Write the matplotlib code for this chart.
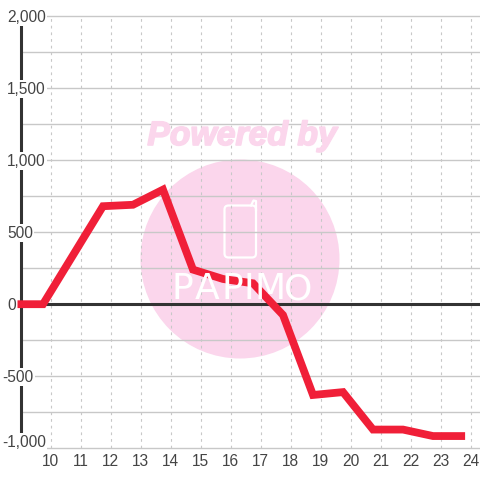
import matplotlib
matplotlib.use('Agg')
import matplotlib.pyplot as plt
import matplotlib.patheffects as pe
from matplotlib.patches import Circle, FancyBboxPatch
from matplotlib.lines import Line2D
from matplotlib.transforms import Affine2D

# Data
hours = [8.9, 9.75, 10.75, 11.75, 12.75, 13.75, 14.75, 15.75, 16.75, 17.75, 18.75, 19.75, 20.75, 21.75, 22.75, 23.82]
values = [0, 0, 340, 680, 690, 795, 240, 175, 145, -75, -630, -610, -870, -870, -915, -915]
x_ticks = [10, 11, 12, 13, 14, 15, 16, 17, 18, 19, 20, 21, 22, 23, 24]
y_ticks = [2000, 1500, 1000, 500, 0, -500, -1000]
y_minor = [1750, 1250, 750, 250, -250, -750]

W = 480
plt.rcParams['font.family'] = ['Liberation Sans', 'DejaVu Sans']
TXT = '#444444'
PINK = '#fbd6ec'
GRID = '#c8c8c8'
DARK = '#333333'
RED = '#f01f38'

fig = plt.figure(figsize=(4.8, 4.8), dpi=100, facecolor='white')
# axes spans px x 20.5..480, y 16..448 (from top)
ax = fig.add_axes([20.5/W, (W-448.3)/W, (W-20.5)/W, (448.3-16)/W])
ax.set_xlim(9, 9 + (W-20.5)/30.0)
ax.set_ylim(-1000, 2000)
ax.patch.set_alpha(0)
for s in ax.spines.values():
    s.set_visible(False)
ax.set_xticks([])
ax.set_yticks([])

# watermark in pixel coords (y down)
px = Affine2D().scale(1, -1).translate(0, W)
fig.add_artist(Circle((240, 259), 99.5, fc=PINK, ec='none', transform=px, zorder=0))
fig.text(242/W, 1-136.5/W, 'Powered by', color=PINK, fontsize=24.3, fontweight='bold', fontstyle='italic',
         ha='center', va='center', zorder=0,
         path_effects=[pe.withStroke(linewidth=1.2, foreground=PINK)])
fig.add_artist(FancyBboxPatch((224.5, 205.5), 31.5, 52, boxstyle='round,pad=0,rounding_size=4', fc='none', ec='white',
                              lw=1.6, transform=px, zorder=0))
fig.add_artist(Line2D([251, 253.5, 256, 256], [205.5, 200.5, 201, 210], color='white', lw=1.6, transform=px, zorder=0))
for ch, cx in zip('PAPIMO', [182, 207, 232, 249, 270, 298]):
    fig.text(cx/W, 1-289/W, ch, color='white', fontsize=26, family='Liberation Sans Narrow',
             ha='center', va='center', zorder=0)

# grid
for v in y_ticks + y_minor:
    ax.axhline(v, color=GRID, lw=1.0, zorder=1, clip_on=False)
for t in x_ticks:
    ax.axvline(t, color=GRID, lw=0.8, ls=(0, (2.5, 3.5)), zorder=1)

# axis lines
ax.axvline(9, color=DARK, lw=2.2, zorder=2, clip_on=False)
ax.axhline(0, color=DARK, lw=2.2, zorder=2)

# y labels with white box covering the axis
for v in y_ticks:
    label = f'{v:,}'
    xoff = -13.5 if v >= 0 else -18.5
    yoff = -1
    if v == -1000:
        yoff = 6
    ax.annotate(label, xy=(0, v), xycoords=('axes fraction', 'data'), xytext=(xoff*0.72, yoff*0.72),
                textcoords='offset points', ha='left', va='center', fontsize=11.2, color=TXT, zorder=3,
                annotation_clip=False, bbox=dict(fc='white', ec='none', pad=1.0))

for t in x_ticks:
    ax.annotate(str(t), xy=(t, 0), xycoords=('data', 'axes fraction'), xytext=(0, -13.5*0.72),
                textcoords='offset points', ha='center', va='center', fontsize=11.2, color=TXT, zorder=3,
                annotation_clip=False)

ax.plot(hours, values, color=RED, lw=5.6, solid_joinstyle='miter', solid_capstyle='butt', zorder=4, clip_on=False)

fig.savefig('out.png', dpi=100)
